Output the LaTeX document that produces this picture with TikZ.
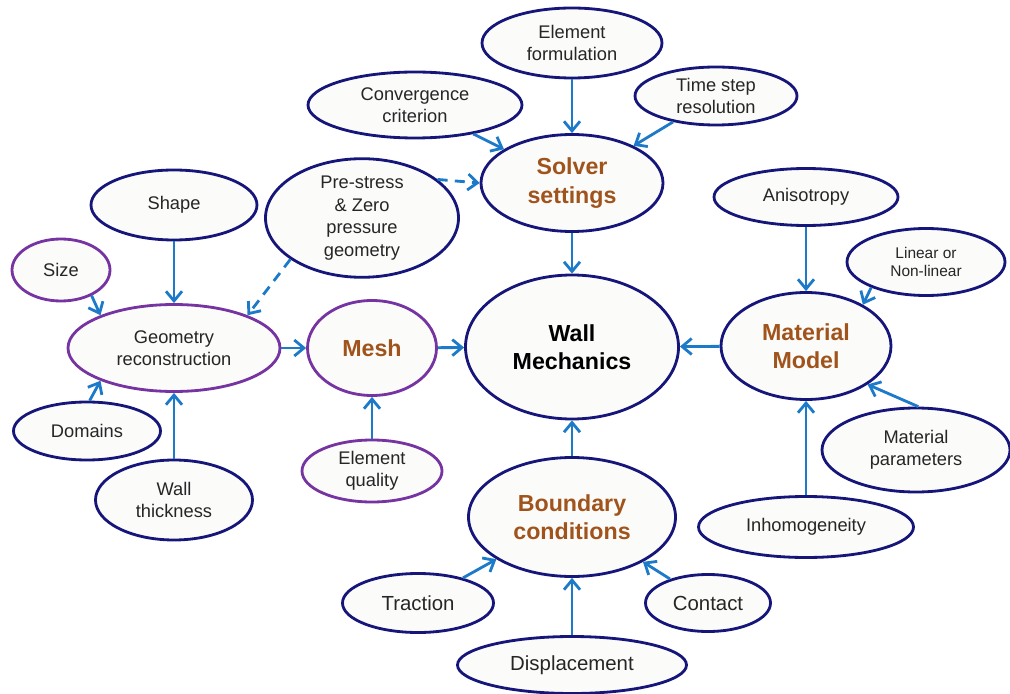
\documentclass[tikz,border=0pt]{standalone}
\usepackage{fontspec}
\setmainfont{Liberation Sans}
\usetikzlibrary{shapes.geometric,arrows.meta}
\definecolor{navyline}{RGB}{22,22,122}
\definecolor{violetline}{RGB}{118,52,162}
\definecolor{arrblue}{RGB}{28,122,200}
\definecolor{keybrown}{RGB}{160,84,28}
\definecolor{cream}{RGB}{251,251,250}
\tikzset{
  bub/.style={ellipse, draw=navyline, line width=2pt, fill=cream, inner sep=0pt, align=center,
    text=black!85, font=\fontsize{13}{16}\selectfont},
  vbub/.style={bub, draw=violetline},
  key/.style={text=keybrown, font=\fontsize{16.5}{20}\selectfont\bfseries},
  big/.style={font=\fontsize{14.5}{17}\selectfont},
  sz/.style 2 args={minimum width=#1*0.025cm, minimum height=#2*0.025cm},
  link/.style={draw=arrblue, line width=2pt, -{Straight Barb[length=2.4mm,width=4mm]}},
}
\begin{document}
\begin{tikzpicture}[x=0.025cm,y=-0.025cm]
  \useasboundingbox (0,0) rectangle (1010,694);
  % solver part
  \node[bub,sz={180}{70}] (elemf) at (572,43) {Element\\formulation};
  \node[bub,sz={214}{66}] (conv) at (415,105) {Convergence\\criterion};
  \node[bub,sz={162}{58}] (tstep) at (716,96) {Time step\\resolution};
  \node[bub,key,sz={182}{97}] (solver) at (572,183) {Solver\\settings};
  \node[bub,sz={193}{100}] (prestr) at (362,218) {Pre-stress\\\& Zero\\pressure\\geometry};
  % geometry and mesh
  \node[bub,sz={166}{70}] (shape) at (174,205) {Shape};
  \node[vbub,sz={98}{62}] (sizen) at (61,270) {Size};
  \node[vbub,sz={212}{87}] (geo) at (174,348) {Geometry\\reconstruction};
  \node[bub,sz={147}{58}] (dom) at (87,431) {Domains};
  \node[bub,sz={157}{80}] (wthick) at (174,500) {Wall\\thickness};
  \node[vbub,key,sz={129}{95}] (mesh) at (372,348) {Mesh};
  \node[vbub,sz={140}{62}] (equal) at (372,471) {Element\\quality};
  % centre
  \node[bub,sz={213}{144},font=\fontsize{16.5}{20}\selectfont\bfseries,text=black] (wall) at (572,347) {Wall\\Mechanics};
  % material
  \node[bub,key,sz={170}{107}] (mat) at (806,346) {Material\\Model};
  \node[bub,sz={184}{57}] (aniso) at (806,197) {Anisotropy};
  \node[bub,sz={158}{67},font=\fontsize{11}{13}\selectfont] (lin) at (926,262) {Linear or\\Non-linear};
  \node[bub,sz={188}{84}] (params) at (916,450) {Material\\parameters};
  \node[bub,sz={215}{61}] (inhom) at (806,527) {Inhomogeneity};
  % boundary conditions
  \node[bub,key,sz={207}{119}] (bc) at (572,517) {Boundary\\conditions};
  \node[bub,big,sz={151}{59}] (trac) at (418,603) {Traction};
  \node[bub,big,sz={125}{57}] (cont) at (708,603) {Contact};
  \node[bub,big,sz={229}{57}] (disp) at (572,665) {Displacement};
  % connectors
  \foreach \a/\b in {elemf/solver, conv/solver, tstep/solver, solver/wall, shape/geo, sizen.-40/geo.156,
      dom.85/geo.204, wthick/geo, geo/mesh, equal/mesh, mesh/wall, mat/wall, aniso/mat, lin.205/mat.36,
      params.87/mat.-32, inhom/mat, bc/wall, trac/bc, cont/bc, disp/bc}
    \draw[link] (\a) -- (\b);
  \draw[link, dash pattern=on 2.5mm off 1.8mm] (prestr.27) -- (solver.west);
  \draw[link, dash pattern=on 2.5mm off 1.8mm] (prestr.210) -- (geo.24);
\end{tikzpicture}
\end{document}
